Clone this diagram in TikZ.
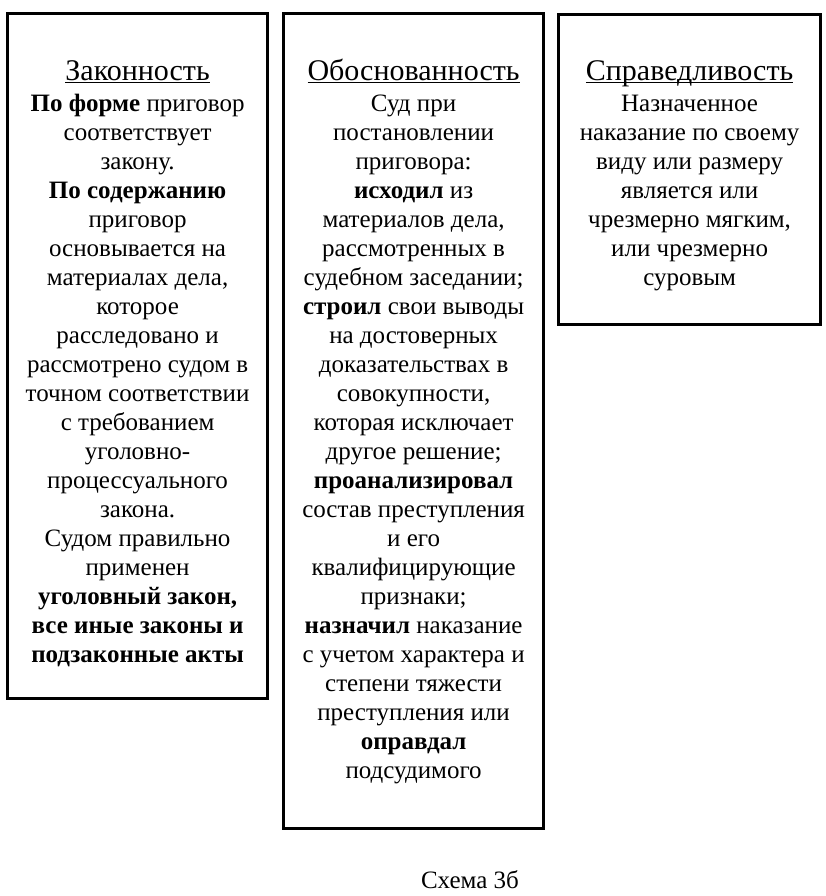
\documentclass[tikz,border=0pt]{standalone}
\usepackage{fontspec}
\setmainfont{Liberation Serif}
\usetikzlibrary{positioning}

\begin{document}
\begin{tikzpicture}[
  x=0.5pt, y=-0.5pt,
  colbox/.style={draw, line width=1.6pt, anchor=north west, inner sep=0pt},
  colhead/.style={anchor=base, inner sep=0pt, font=\fontsize{15}{14.5}\selectfont},
  coltext/.style={align=center, anchor=north, inner sep=0pt,
    font=\fontsize{12.5}{14.5}\selectfont}
]
\useasboundingbox (0,0) rectangle (826,896);

% three columns
\node[colbox, minimum width=130pt, minimum height=342.5pt] (zak) at (6,12) {};
\node[colbox, minimum width=130pt, minimum height=407.5pt] (obos) at (282,12) {};
\node[colbox, minimum width=131pt, minimum height=155pt] (sprav) at (557,13) {};

% headings
\node[colhead] (zakhead) at ([yshift=-34pt]zak.north) {\underline{\smash{Законность}}};
\node[colhead] (oboshead) at ([yshift=-34pt]obos.north) {\underline{\smash{Обоснованность}}};
\node[colhead] (spravhead) at ([yshift=-33.5pt]sprav.north) {\underline{\smash{Справедливость}}};

\node[coltext, below=5.2pt of zakhead.base] (zaktext) {%
  \strut\textbf{По форме} приговор\\ соответствует\\ закону.\\
  \textbf{По содержанию}\\ приговор\\ основывается на\\ материалах дела,\\
  которое\\ расследовано и\\ рассмотрено судом в\\ точном соответствии\\
  с требованием\\ уголовно-\\ процессуального\\ закона.\\
  Судом правильно\\ применен\\ \textbf{уголовный закон,}\\
  \textbf{все иные законы и}\\ \textbf{подзаконные акты}};

\node[coltext, below=5.2pt of oboshead.base] (obostext) {%
  \strut Суд при\\ постановлении\\ приговора:\\ \textbf{исходил} из\\
  материалов дела,\\ рассмотренных в\\ судебном заседании;\\
  \textbf{строил} свои выводы\\ на достоверных\\ доказательствах в\\
  совокупности,\\ которая исключает\\ другое решение;\\
  \textbf{проанализировал}\\ состав преступления\\ и его\\
  квалифицирующие\\ признаки;\\ \textbf{назначил} наказание\\
  с учетом характера и\\ степени тяжести\\ преступления или\\
  \textbf{оправдал}\\ подсудимого};

\node[coltext, below=5.2pt of spravhead.base] (spravtext) {%
  \strut Назначенное\\ наказание по своему\\ виду или размеру\\
  является или\\ чрезмерно мягким,\\ или чрезмерно\\ суровым};

\node[font=\fontsize{12.5}{14.5}\selectfont] (caption) at (470,880) {Схема 3б};
\end{tikzpicture}
\end{document}
